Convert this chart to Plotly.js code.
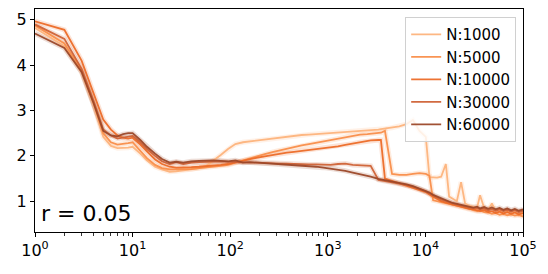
<!DOCTYPE html>
<html>
<head>
<meta charset="utf-8">
<script src="https://cdn.plot.ly/plotly-3.0.1.min.js"></script>
<style>html,body{margin:0;padding:0;background:#fff;}#chart{width:548px;height:274px;}</style>
</head>
<body>
<div id="chart"></div>
<script>
// x grid (iterations)
const xs = [1,2,3,4,5,6,7,8,9,10,12,14,17,20,24,28,33,40,48,57,68,80,95,
  113,135,160,190,226,270,320,380,450,540,640,760,900,1070,1270,1510,1800,2140,2540,2750,3300,3500,3850,4550,5400,6400,7450,8700,
  10100,11000,12000,13200,14500,16200,17500,19000,21000,23200,25500,28000,31000,33900,36300,40000,44000,48000,52500,57500,63000,69000,75500,82500,90500,100000];

const seriesNames = ['N:1000','N:5000','N:10000','N:30000','N:60000'];

const n1000 = [4.82,4.42,3.85,3.12,2.42,2.22,2.17,2.17,2.18,2.2,2.05,1.9,1.76,1.7,1.65,1.66,1.68,1.7,1.73,1.78,1.9,2.02,2.15,
  2.26,2.3,2.32,2.34,2.37,2.39,2.41,2.43,2.45,2.46,2.47,2.48,2.49,2.5,2.51,2.52,2.53,2.54,2.55,2.56,2.58,2.59,2.6,2.62,2.65,2.7,2.79,2.55,
  2.42,1.53,1.52,1.52,1.54,1.82,1.1,1.05,1.0,1.42,0.95,0.9,0.88,0.86,1.13,0.85,0.8,0.95,0.78,0.8,0.74,0.78,0.72,0.76,0.7,0.73];

const n5000 = [4.88,4.48,3.88,3.15,2.5,2.3,2.25,2.26,2.28,2.3,2.12,1.95,1.8,1.73,1.7,1.7,1.7,1.71,1.73,1.74,1.76,1.78,1.8,
  1.85,1.9,1.95,2.0,2.04,2.08,2.12,2.15,2.19,2.23,2.26,2.29,2.32,2.35,2.38,2.41,2.45,2.47,2.48,2.49,2.5,2.51,2.55,1.6,1.58,1.58,1.6,1.62,
  1.6,1.56,1.02,1.0,0.98,0.96,0.94,0.92,0.9,0.87,0.86,0.84,0.8,0.78,0.8,0.76,0.75,0.72,0.74,0.7,0.72,0.69,0.71,0.68,0.7,0.66];

const n10000 = [4.97,4.78,4.1,3.38,2.8,2.58,2.45,2.4,2.38,2.4,2.25,2.1,1.92,1.82,1.76,1.74,1.74,1.75,1.76,1.77,1.78,1.8,1.82,
  1.86,1.9,1.93,1.96,1.99,2.02,2.04,2.07,2.09,2.11,2.13,2.15,2.17,2.19,2.21,2.24,2.27,2.3,2.33,2.34,2.35,2.35,1.5,1.45,1.4,1.35,1.3,1.25,
  1.2,1.15,1.1,1.05,1.0,0.97,0.95,0.92,0.9,0.88,0.85,0.83,0.82,0.8,0.78,0.8,0.76,0.78,0.74,0.77,0.73,0.76,0.72,0.75,0.71,0.74];

const n30000 = [4.9,4.58,3.92,3.2,2.58,2.45,2.38,2.4,2.42,2.44,2.3,2.15,2.0,1.88,1.82,1.86,1.82,1.85,1.86,1.87,1.88,1.88,1.87,
  1.86,1.86,1.85,1.85,1.84,1.84,1.83,1.83,1.82,1.82,1.81,1.81,1.8,1.8,1.82,1.83,1.8,1.79,1.78,1.78,1.47,1.46,1.45,1.43,1.4,1.36,1.32,1.27,
  1.22,1.17,1.12,1.08,1.04,1.0,0.97,0.95,0.93,0.9,0.88,0.86,0.84,0.85,0.82,0.84,0.8,0.83,0.79,0.82,0.78,0.81,0.77,0.8,0.76,0.79];

const n60000 = [4.7,4.38,3.85,3.15,2.55,2.45,2.43,2.48,2.5,2.5,2.35,2.2,2.05,1.93,1.85,1.87,1.85,1.88,1.89,1.9,1.9,1.89,1.88,
  1.9,1.85,1.86,1.85,1.84,1.83,1.82,1.81,1.8,1.79,1.77,1.76,1.74,1.72,1.7,1.67,1.63,1.6,1.56,1.54,1.49,1.48,1.47,1.44,1.41,1.37,1.33,1.28,
  1.23,1.19,1.14,1.1,1.06,1.02,0.99,0.96,0.94,0.92,0.9,0.88,0.86,0.88,0.84,0.87,0.83,0.86,0.82,0.85,0.81,0.84,0.8,0.83,0.79,0.82];

const xTickVals = [1,10,100,1000,10000,100000];
const xTickText = ['10<sup>0</sup>','10<sup>1</sup>','10<sup>2</sup>','10<sup>3</sup>','10<sup>4</sup>','10<sup>5</sup>'];
const yTickVals = [1,2,3,4,5];
const annotationText = 'r = 0.05';

const allSeries = [n1000,n5000,n10000,n30000,n60000];
const colors = ['#fdb37c','#f98e4a','#ec6b28','#cf6236','#9c4829'];

const traces = [];
allSeries.forEach((ys,i)=>{
  traces.push({x:xs,y:ys,type:'scatter',mode:'lines',showlegend:false,hoverinfo:'skip',
    line:{color:colors[i],width:5},opacity:0.18});
});
allSeries.forEach((ys,i)=>{
  traces.push({x:xs,y:ys,type:'scatter',mode:'lines',name:seriesNames[i],
    line:{color:colors[i],width:1.8},opacity:0.95});
});

const font = {family:'DejaVu Sans, sans-serif',size:16,color:'#000'};
const layout = {
  width:548,height:274,
  margin:{l:35,r:25,t:9,b:42},
  paper_bgcolor:'#fff',plot_bgcolor:'#fff',
  font:font,
  showlegend:true,
  xaxis:{type:'log',range:[0,5],tickvals:xTickVals,ticktext:xTickText,
    ticks:'outside',ticklen:4,tickwidth:1,tickcolor:'#000',
    showline:true,linecolor:'#000',linewidth:1,mirror:true,
    showgrid:false,zeroline:false,tickfont:{family:'DejaVu Sans',size:16,color:'#000'},
    minor:{ticks:'outside',ticklen:2.5,tickwidth:0.8,tickcolor:'#000',dtick:'D1',showgrid:false}},
  yaxis:{range:[0.32,5.24],tickvals:yTickVals,
    ticks:'outside',ticklen:4,tickwidth:1,tickcolor:'#000',
    showline:true,linecolor:'#000',linewidth:1,mirror:true,
    showgrid:false,zeroline:false,tickfont:{family:'DejaVu Sans',size:16,color:'#000'}},
  legend:{x:0.986,y:0.964,xanchor:'right',yanchor:'top',
    bgcolor:'rgba(255,255,255,0.8)',bordercolor:'#d0d0d0',borderwidth:1,
    font:{family:'DejaVu Sans',size:15,color:'#000'},tracegroupgap:0},
  annotations:[{xref:'paper',yref:'paper',x:0.008,y:0.085,xanchor:'left',yanchor:'middle',
    text:annotationText,showarrow:false,font:{family:'DejaVu Sans',size:22,color:'#000'}}]
};
Plotly.newPlot('chart',traces,layout,{displayModeBar:false,staticPlot:true});
</script>
</body>
</html>
